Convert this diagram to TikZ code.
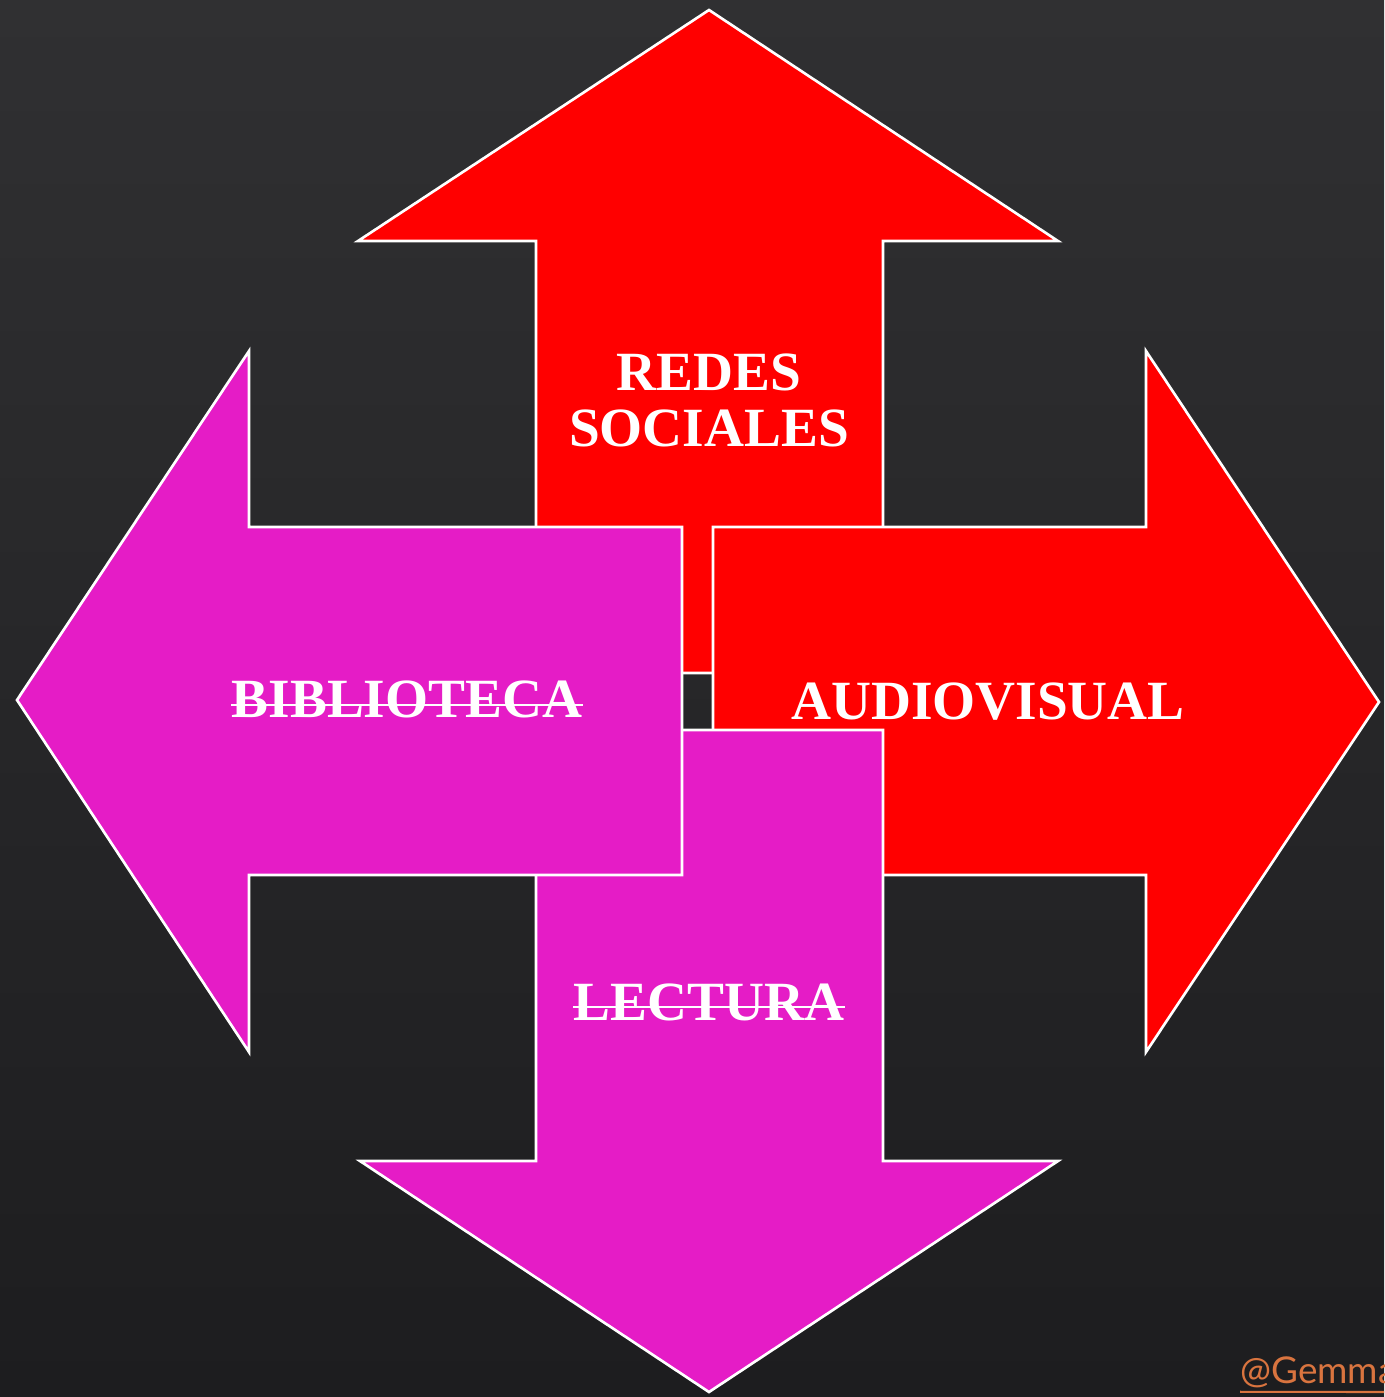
\documentclass[tikz,border=0pt]{standalone}
\usepackage{fontspec}
\setmainfont{Liberation Serif}
\newfontfamily\wmfont{Lato}
\usepackage{tikz}
\definecolor{boardtop}{HTML}{303032}
\definecolor{boardbot}{HTML}{1D1D1F}
\definecolor{redarrow}{HTML}{FF0000}
\definecolor{pinkarrow}{HTML}{E51CC6}
\definecolor{wmorange}{HTML}{D9743F}
\tikzset{
    arrowshape/.style={draw=white, line width=1.5pt, line join=miter},
    word/.style={text=white, inner sep=0pt, font=\fontsize{31.5}{36}\selectfont\bfseries},
    strike/.style={draw=white, line width=1.2pt}
}

\begin{document}
\begin{tikzpicture}[x=0.02cm, y=-0.02cm]
  \shade[top color=boardtop, bottom color=boardbot] (0,0) rectangle (1384,1397);
  \clip (0,0) rectangle (1384,1397);

  % up, right, down, left
  \draw[arrowshape, fill=redarrow] (709,10) -- (1058,241) -- (883,241) -- (883,673)
    -- (536,673) -- (536,241) -- (358,241) -- cycle;
  \draw[arrowshape, fill=redarrow] (1379,702) -- (1146,1052) -- (1146,875) -- (713,875)
    -- (713,527) -- (1146,527) -- (1146,351) -- cycle;
  \draw[arrowshape, fill=pinkarrow] (709,1392) -- (360,1161) -- (536,1161) -- (536,730)
    -- (883,730) -- (883,1161) -- (1058,1161) -- cycle;
  \draw[arrowshape, fill=pinkarrow] (17,700) -- (249,351) -- (249,527) -- (682,527)
    -- (682,875) -- (249,875) -- (249,1052) -- cycle;

  \node (redes) [word, anchor=base] at (709,390) {REDES};
  \node (sociales) [word, anchor=base] at (709,446) {SOCIALES};
  \node (audio) [word, anchor=base] at (988,719) {AUDIOVISUAL};
  \node (biblio) [word, anchor=base] at (407,717) {BIBLIOTECA};
  \node (lectura) [word, anchor=base] at (709,1020) {LECTURA};

  \draw[strike] ([yshift=6.8pt]biblio.base west) -- ([yshift=6.8pt]biblio.base east);
  \draw[strike] ([yshift=7.4pt]lectura.base west) -- ([yshift=7.4pt]lectura.base east);

  \node (gemma) [anchor=base west, inner sep=0pt, text=wmorange,
    font=\wmfont\fontsize{21}{24}\selectfont] at (1240,1383) {@Gemma};
  \draw[wmorange, line width=1.2pt] ([yshift=-5pt]gemma.base west) -- (1400,1392);
\end{tikzpicture}
\end{document}
